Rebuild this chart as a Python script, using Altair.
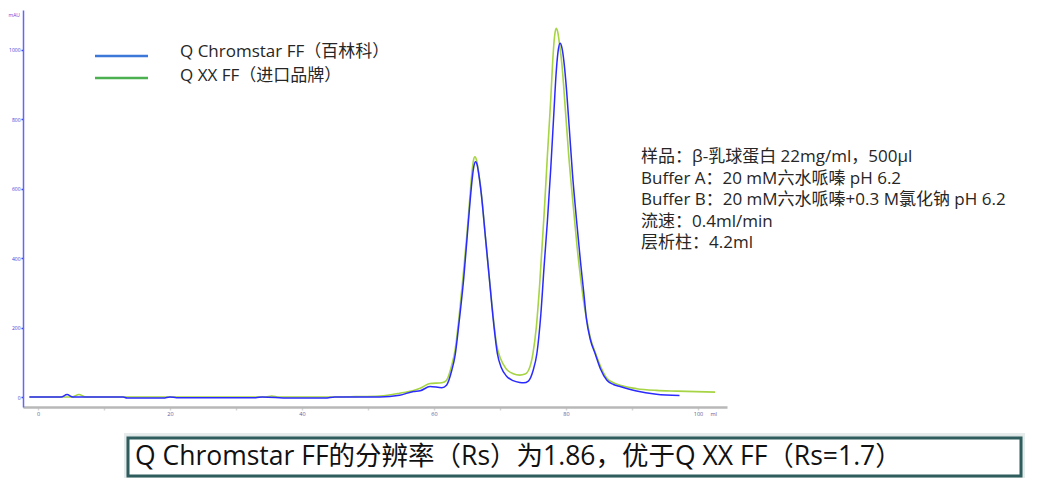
import altair as alt
import pandas as pd

# ---- data ----
series_names = ["Q Chromstar FF（百林科）", "Q XX FF（进口品牌）"]

blue_x = [-1.3, 3.5, 4.4, 5.3, 12.9, 13.5, 19.0, 20.0, 21.0, 33.0, 34.0, 38.0, 43.5, 45.0,
          51.8, 54.8, 56.9, 57.9, 59.4, 61.2, 61.9, 62.7, 63.2, 63.8, 64.5, 65.0, 65.5, 65.8,
          66.05, 66.3, 66.55, 66.8, 67.2, 67.8, 68.4, 69.0, 69.6, 70.2, 71.0, 72.0, 73.0, 73.6,
          74.3, 75.0, 75.6, 76.2, 76.7, 77.2, 77.7, 78.2, 78.5, 78.8, 79.1, 79.4, 79.7, 80.0,
          80.5, 81.0, 81.6, 82.2, 82.7, 83.1, 83.7, 84.4, 85.2, 86.2, 87.2, 88.2, 90.7, 93.7,
          97.2]
blue_y = [0, 0, 7, 0, 0, -3, -3, 0, -2, -2, 0, -3, -3, 0,
          0, 5, 16, 18, 30, 27, 34, 77, 120, 215, 340, 455, 570, 630,
          665, 678, 668, 640, 580, 460, 340, 220, 126, 85, 60, 47, 42, 41,
          46, 75, 126, 240, 380, 510, 660, 830, 930, 995, 1019, 1005, 965, 905,
          775, 640, 510, 390, 300, 225, 165, 126, 82, 48, 36, 30, 17, 8,
          4]

green_x = [-1.3, 5.2, 6.2, 7.2, 34.5, 35.4, 36.5, 45.0, 48.0, 51.8, 54.8, 56.9, 57.9, 59.4,
           61.2, 61.9, 62.7, 63.2, 63.8, 64.4, 65.0, 65.5, 65.8, 66.0, 66.2, 66.45, 66.7, 67.1,
           67.7, 68.3, 68.9, 69.5, 70.1, 70.9, 72.0, 73.0, 73.8, 74.5, 75.0, 75.5, 76.0, 76.7,
           77.2, 77.7, 78.0, 78.25, 78.5, 78.75, 79.0, 79.4, 79.9, 80.4, 81.2, 81.7, 82.3, 82.8,
           83.1, 83.7, 84.4, 85.2, 86.2, 87.2, 88.2, 90.7, 93.7, 96.8, 102.6]
green_y = [0, 0, 7, 0, 0, 3, 0, 0, 1, 3, 11, 19, 25, 39,
           41, 48, 92, 135, 230, 345, 470, 590, 655, 683, 692, 682, 655, 600,
           480, 360, 245, 150, 110, 82, 67, 63, 66, 85, 126, 200, 320, 531,
           700, 860, 970, 1035, 1062, 1052, 1020, 955, 830, 700, 531, 430, 330, 260,
           228, 170, 130, 90, 54, 41, 34, 24, 19, 17, 14]

y_ticks = [0, 200, 400, 600, 800, 1000]
x_ticks = [0, 10, 20, 30, 40, 50, 60, 70, 80, 90, 100]

info_lines = [
    "样品：β-乳球蛋白 22mg/ml，500μl",
    "Buffer A：20 mM六水哌嗪 pH 6.2",
    "Buffer B：20 mM六水哌嗪+0.3 M氯化钠 pH 6.2",
    "流速：0.4ml/min",
    "层析柱：4.2ml",
]
caption = "Q Chromstar FF的分辨率（Rs）为1.86，优于Q XX FF（Rs=1.7）"

# ---- styling ----
FONT = "Open Sans, Noto Sans CJK SC, sans-serif"
BLUE = "#2a2aff"
GREEN = "#a6d444"
LEG_BLUE = "#3c78d8"
LEG_GREEN = "#4caf50"

df_blue = pd.DataFrame({"x": blue_x, "y": blue_y, "series": series_names[0]})
df_green = pd.DataFrame({"x": green_x, "y": green_y, "series": series_names[1]})

xscale = alt.Scale(domain=[-2.27, 104.4], nice=False, zero=False)
yscale = alt.Scale(domain=[-28.8, 1115], nice=False, zero=False)

x_axis = alt.Axis(
    values=x_ticks, format="d",
    labelExpr="datum.value % 20 == 0 ? datum.label : ''",
    grid=False,
    domainColor="#b8b8b8", domainWidth=2.5,
    tickColor="#d4d4d4", tickSize=3, tickWidth=1.5,
    labelFontSize=5.5, labelColor="#5a5aa0", labelBaseline="middle", labelPadding=3,
    labelFont=FONT,
    title="ml", titleFontSize=5.5, titleColor="#5a5aa0", titleFontWeight="normal",
    titleX=687, titleY=6, titleAlign="left", titleBaseline="middle", titleFont=FONT,
)
y_axis = alt.Axis(
    values=y_ticks, format="d", grid=False,
    domainColor="#6464ff", domainWidth=1.5,
    tickColor="#3a3aee", tickSize=2, tickWidth=1.5,
    labelFontSize=5, labelColor="#4040d8", labelPadding=1, labelFont=FONT,
    title="mAU", titleAngle=0, titleFontSize=5, titleColor="#7a3ad0",
    titleFontWeight="normal", titleX=-15, titleY=4, titleAlign="left",
    titleBaseline="middle", titleFont=FONT,
)

green_line = alt.Chart(df_green).mark_line(
    interpolate="monotone", strokeWidth=1.6, color=GREEN, clip=True
).encode(
    x=alt.X("x:Q", scale=xscale, axis=x_axis),
    y=alt.Y("y:Q", scale=yscale, axis=y_axis),
)
blue_line = alt.Chart(df_blue).mark_line(
    interpolate="monotone", strokeWidth=1.5, color=BLUE, clip=True
).encode(
    x=alt.X("x:Q", scale=xscale, axis=x_axis),
    y=alt.Y("y:Q", scale=yscale, axis=y_axis),
)

one = pd.DataFrame({"a": [0]})

# manual legend
leg_layers = []
for name, col, yy, ty in [(series_names[0], LEG_BLUE, 46, 42), (series_names[1], LEG_GREEN, 68, 66)]:
    leg_layers.append(
        alt.Chart(one).mark_rule(color=col, strokeWidth=2.5).encode(
            x=alt.value(72), x2=alt.value(125), y=alt.value(yy)
        )
    )
    leg_layers.append(
        alt.Chart(pd.DataFrame({"t": [name]})).mark_text(
            align="left", baseline="middle", fontSize=17, font=FONT, color="#262626"
        ).encode(x=alt.value(157), y=alt.value(ty), text="t:N")
    )

# info block
info_layers = []
for i, line in enumerate(info_lines):
    info_layers.append(
        alt.Chart(pd.DataFrame({"t": [line]})).mark_text(
            align="left", baseline="middle", fontSize=17, font=FONT, color="#262626"
        ).encode(x=alt.value(618), y=alt.value(147 + i * 21.6), text="t:N")
    )

# caption box
shadow = alt.Chart(one).mark_rect(fill="#dfe6e6", stroke="#e6ecec", strokeWidth=2).encode(
    x=alt.value(102), x2=alt.value(1001), y=alt.value(424), y2=alt.value(467)
)
box = alt.Chart(one).mark_rect(fill="white", stroke="#2f5c5c", strokeWidth=3).encode(
    x=alt.value(105), x2=alt.value(998), y=alt.value(428), y2=alt.value(466)
)
cap = alt.Chart(pd.DataFrame({"t": [caption]})).mark_text(
    align="left", baseline="middle", fontSize=26.5, font=FONT, color="#111111"
).encode(x=alt.value(112), y=alt.value(447), text="t:N")

chart = alt.layer(
    green_line, blue_line, *leg_layers, *info_layers, shadow, box, cap
).properties(
    width=704, height=397,
    autosize=alt.AutoSizeParams(type="none"),
    padding={"left": 15, "top": 2, "right": 307, "bottom": 71},
    background="white",
).configure_view(stroke=None)

chart.save("out.html", embed_options={"renderer": "svg", "actions": False})
